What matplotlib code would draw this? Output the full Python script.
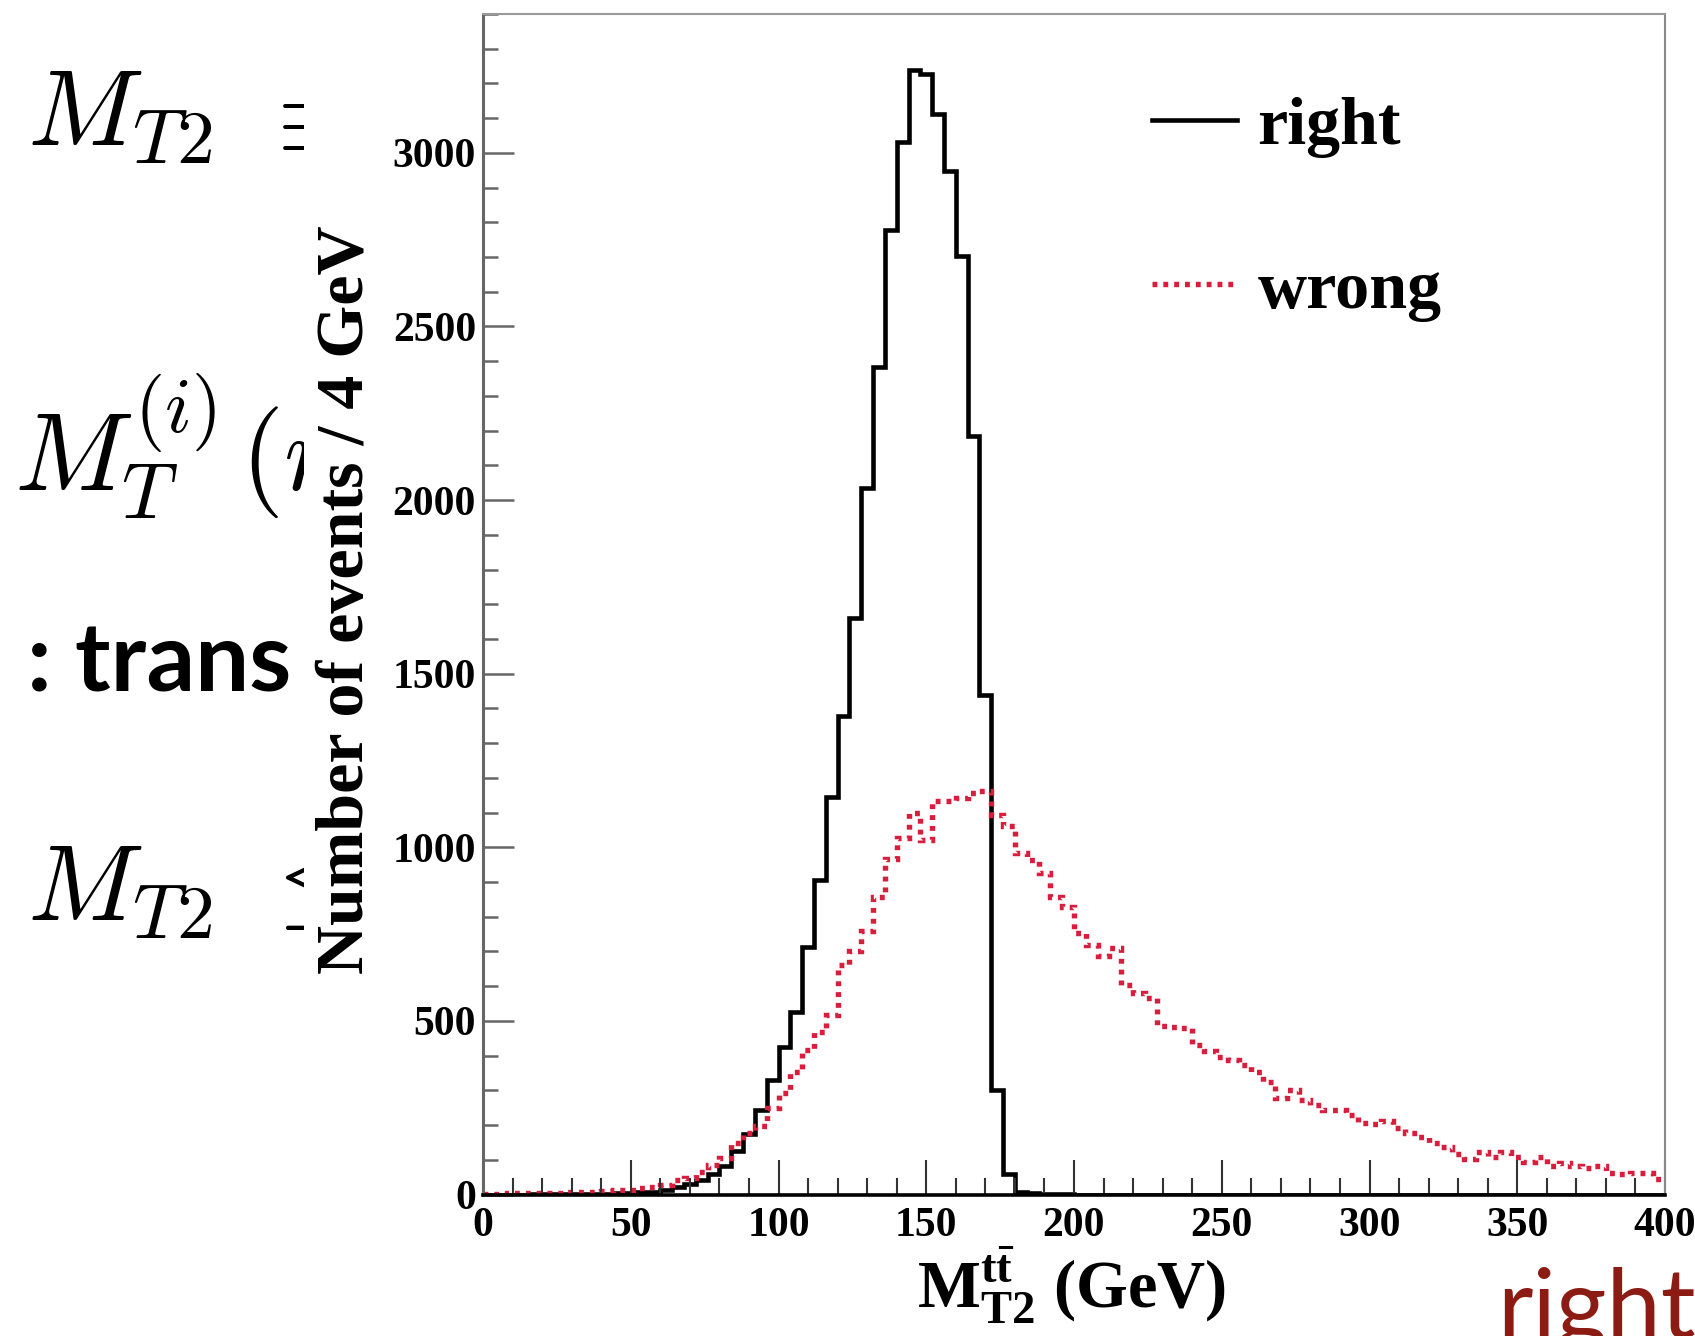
import matplotlib
matplotlib.use("Agg")
import matplotlib.pyplot as plt
import numpy as np
from matplotlib.lines import Line2D
from matplotlib.patches import Rectangle
from matplotlib.ticker import MultipleLocator

# histogram data, 4 GeV bins from 0 to 400 GeV
bin_edges = np.arange(0, 404, 4)

right = [0, 0, 0, 0, 1, 1, 1, 1, 2, 2,
         2, 3, 4, 6, 8, 12, 22, 30, 42, 60,
         82, 125, 175, 242, 330, 425, 527, 712, 905, 1146,
         1378, 1660, 2034, 2383, 2777, 3030, 3240, 3228, 3112, 2948,
         2704, 2184, 1440, 300, 60, 8, 3, 2, 1, 1,
         0, 0, 0, 0, 0, 0, 0, 0, 0, 0,
         0, 0, 0, 0, 0, 0, 0, 0, 0, 0,
         0, 0, 0, 0, 0, 0, 0, 0, 0, 0,
         0, 0, 0, 0, 0, 0, 0, 0, 0, 0,
         0, 0, 0, 0, 0, 0, 0, 0, 0, 0]

wrong = [2, 2, 3, 3, 4, 4, 5, 6, 7, 8,
         10, 12, 14, 18, 23, 27, 42, 47, 66, 85,
         104, 148, 176, 196, 248, 292, 354, 417, 469, 517,
         661, 700, 758, 858, 966, 1026, 1098, 1022, 1132, 1132,
         1143, 1155, 1161, 1094, 1060, 983, 964, 926, 858, 829,
         753, 720, 687, 709, 604, 580, 566, 486, 482, 479,
         431, 412, 397, 386, 373, 354, 325, 277, 301, 272,
         258, 242, 242, 229, 205, 203, 213, 191, 177, 165,
         148, 138, 117, 101, 123, 109, 123, 109, 93, 109,
         83, 90, 83, 75, 83, 63, 59, 63, 63, 46]

labels = ["right", "wrong"]

plt.rcParams['font.family'] = 'Liberation Serif'
plt.rcParams['font.weight'] = 'bold'
plt.rcParams['axes.labelweight'] = 'bold'
plt.rcParams['mathtext.fontset'] = 'custom'
plt.rcParams['mathtext.rm'] = 'Liberation Serif:bold'
plt.rcParams['mathtext.it'] = 'Liberation Serif:italic:bold'
plt.rcParams['mathtext.bf'] = 'Liberation Serif:bold'

W, H = 1695, 1336
fig = plt.figure(figsize=(W / 100, H / 100), dpi=100)

# bits of the slide that peek out behind the plot
frag = dict(math_fontfamily='cm', color='black', zorder=-2, ha='left', va='baseline')
fig.text(27 / W, 1 - 146 / H, r'$M_{T2}$', fontsize=78, **frag)
fig.text(257 / W, 1 - 152 / H, r'$\equiv$', fontsize=78, **frag)
fig.text(14 / W, 1 - 490 / H, r'$M_T^{(i)}$', fontsize=80, **frag)
fig.text(240 / W, 1 - 490 / H, r'$(m$', fontsize=80, **frag)
fig.text(27 / W, 1 - 692 / H, ': trans', fontsize=69, family='Lato',
         weight='bold', color='black', zorder=-2, ha='left', va='baseline')
fig.text(27 / W, 1 - 921 / H, r'$M_{T2}$', fontsize=78, **frag)
fig.text(257 / W, 1 - 915 / H, r'$\leq$', fontsize=78, **frag)
fig.add_artist(Rectangle((304 / W, 0), 1 - 304 / W, 1, transform=fig.transFigure,
                         facecolor='white', edgecolor='none', zorder=-1))
fig.text(1497 / W, 1 - 1338 / H, 'right', fontsize=70, family='Lato',
         weight='normal', color='#8c1c13', zorder=5, ha='left', va='baseline')

ax = fig.add_axes([483 / W, 1 - 1194.5 / H, 1182 / W, 1180.5 / H])

red = '#d81e3c'
dots = (0, (0.9, 1.1))
ax.stairs(right, bin_edges, color='black', lw=3.3, baseline=None)
ax.stairs(wrong, bin_edges, color=red, lw=3.9, ls=dots, baseline=None)

ax.set_xlim(0, 400)
ax.set_ylim(0, 3400)
ax.xaxis.set_major_locator(MultipleLocator(50))
ax.xaxis.set_minor_locator(MultipleLocator(10))
ax.yaxis.set_major_locator(MultipleLocator(500))
ax.yaxis.set_minor_locator(MultipleLocator(100))

ax.tick_params(axis='x', which='major', direction='in', length=25, width=1.5,
               color='#333333', pad=9, labelsize=30)
ax.tick_params(axis='x', which='minor', direction='in', length=12, width=1.5,
               color='#333333')
ax.tick_params(axis='y', which='major', direction='in', length=22, width=1.8,
               color='#666666', pad=5, labelsize=30)
ax.tick_params(axis='y', which='minor', direction='in', length=11, width=1.8,
               color='#666666')

ax.spines['top'].set_color('#999999')
ax.spines['top'].set_linewidth(1.5)
ax.spines['right'].set_color('#888888')
ax.spines['right'].set_linewidth(1.5)
ax.spines['left'].set_color('#666666')
ax.spines['left'].set_linewidth(2.2)
ax.spines['bottom'].set_color('black')
ax.spines['bottom'].set_linewidth(2.6)

ax.set_xlabel(r'$\mathrm{M}_{\mathrm{T2}}^{\mathrm{t\bar{t}}}$ (GeV)', fontsize=48)
ax.xaxis.set_label_coords(0.498, -0.043)
ax.set_ylabel('Number of events / 4 GeV', fontsize=49)
ax.yaxis.set_label_coords(-0.09, 0.504)

handles = [Line2D([], [], color='black', lw=3.3),
           Line2D([], [], color=red, lw=3.9, ls=dots)]
ax.legend(handles, labels, loc='upper left', bbox_to_anchor=(0.566, 0.93),
          frameon=False, fontsize=49, handlelength=1.25, handletextpad=0.3,
          labelspacing=1.5, borderpad=0, borderaxespad=0)

fig.savefig('out.png', dpi=100)
